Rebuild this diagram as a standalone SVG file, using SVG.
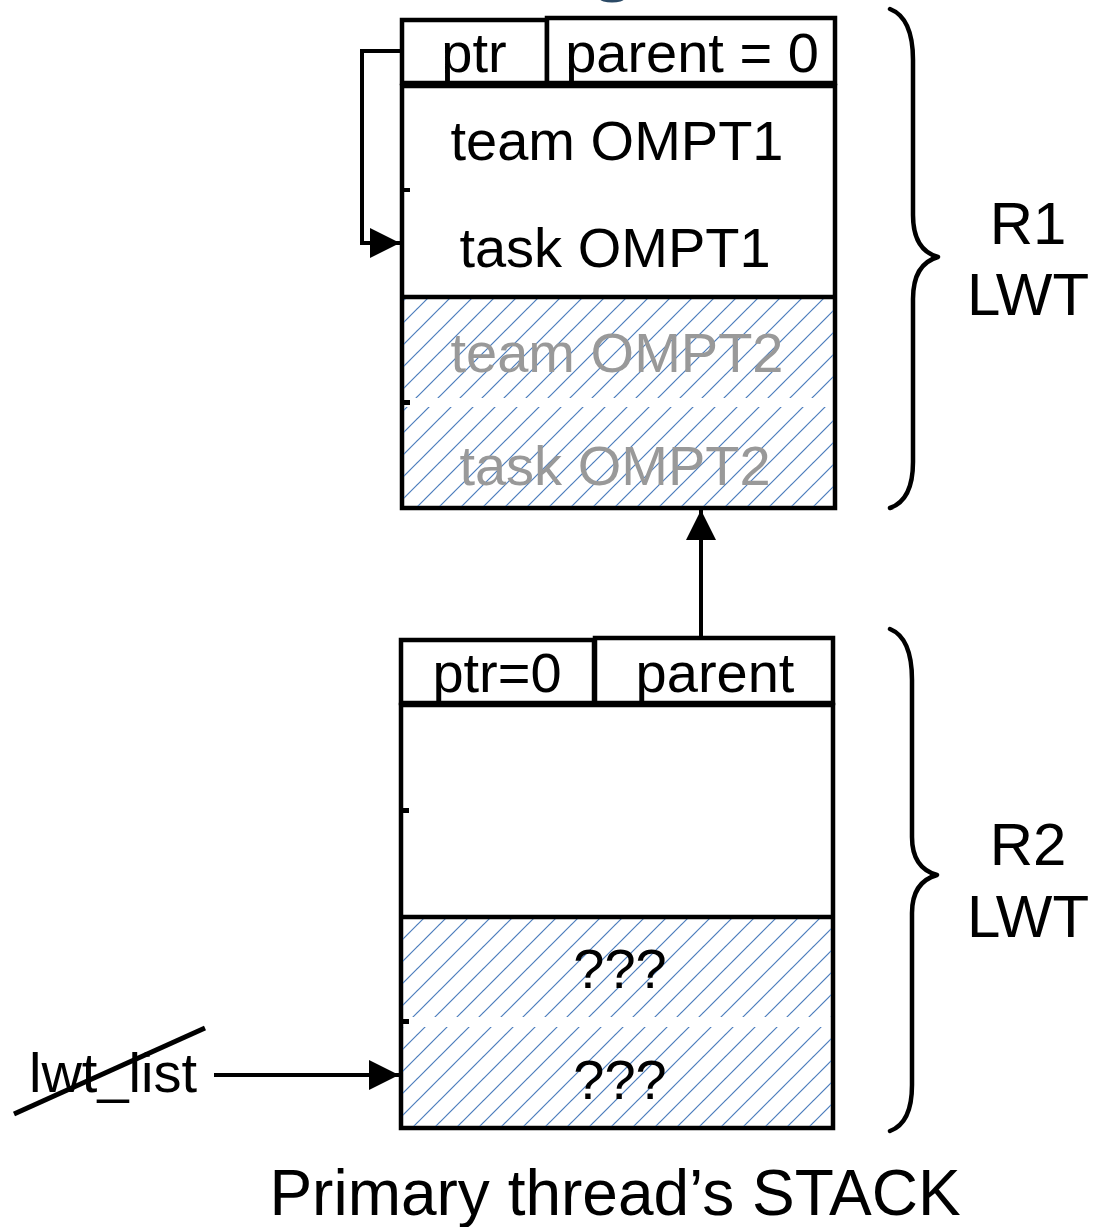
<svg xmlns="http://www.w3.org/2000/svg" width="1119" height="1227" viewBox="0 0 1119 1227">
  <defs>
    <pattern id="hatch" patternUnits="userSpaceOnUse" width="22" height="22">
      <line x1="-2" y1="24" x2="24" y2="-2" stroke="#4a7cbc" stroke-width="1.2"/>
      <line x1="-2" y1="2" x2="2" y2="-2" stroke="#4a7cbc" stroke-width="1.2"/>
      <line x1="20" y1="24" x2="24" y2="20" stroke="#4a7cbc" stroke-width="1.2"/>
    </pattern>
    <marker id="arrow" viewBox="0 0 30 30" refX="30" refY="15" markerWidth="30" markerHeight="30" markerUnits="userSpaceOnUse" orient="auto">
      <path d="M0,0 L30,15 L0,30 Z" fill="#000"/>
    </marker>
  </defs>
  <style>
    .box { fill: #fff; stroke: #000; stroke-width: 4.5; }
    .hatched { fill: url(#hatch); stroke: none; }
    .rule { stroke: #000; stroke-width: 4.5; }
    .tick { fill: #000; }
    .lbl { font-family: "Liberation Sans", Arial, sans-serif; font-size: 56px; fill: #000; text-anchor: middle; }
    .ghost { fill: #999999; }
    .side { font-family: "Liberation Sans", Arial, sans-serif; font-size: 60px; fill: #000; text-anchor: middle; }
    .caption { font-family: "Liberation Sans", Arial, sans-serif; font-size: 64px; fill: #000; text-anchor: middle; }
    .link { fill: none; stroke: #000; stroke-width: 4; }
    .brace { fill: none; stroke: #000; stroke-width: 4.5; stroke-linecap: round; stroke-linejoin: round; }
  </style>

  <rect width="1119" height="1227" fill="#fff"/>

  <!-- descender of the heading cut off at the top edge -->
  <ellipse cx="612" cy="-1" rx="12" ry="3.5" fill="#2b4a66"/>

  <!-- R1 lightweight task frame -->
  <g id="r1-ptr">
    <rect class="box" x="402" y="20" width="145" height="63"/>
    <text class="lbl" x="474" y="72">ptr</text>
  </g>
  <g id="r1-parent">
    <rect class="box" x="547" y="18" width="288" height="65"/>
    <text class="lbl" x="692" y="72">parent = 0</text>
  </g>
  <g id="r1-body">
    <rect class="box" x="402" y="86" width="433" height="422"/>
    <rect class="hatched" x="404" y="299" width="429" height="99"/>
    <rect class="hatched" x="404" y="407" width="429" height="99"/>
    <line class="rule" x1="402" y1="297" x2="835" y2="297"/>
    <rect class="tick" x="402" y="188" width="8" height="4"/>
    <rect class="tick" x="402" y="400" width="8" height="5"/>
    <text class="lbl" x="617" y="160">team OMPT1</text>
    <text class="lbl" x="615" y="267">task OMPT1</text>
    <text class="lbl ghost" x="617" y="372">team OMPT2</text>
    <text class="lbl ghost" x="615" y="485">task OMPT2</text>
  </g>

  <!-- R2 lightweight task frame -->
  <g id="r2-ptr">
    <rect class="box" x="401" y="640" width="193" height="63"/>
    <text class="lbl" x="497" y="692">ptr=0</text>
  </g>
  <g id="r2-parent">
    <rect class="box" x="595" y="638" width="238" height="65"/>
    <text class="lbl" x="715" y="692">parent</text>
  </g>
  <g id="r2-body">
    <rect class="box" x="401" y="705" width="432" height="423"/>
    <rect class="hatched" x="403" y="919" width="428" height="98"/>
    <rect class="hatched" x="403" y="1027" width="428" height="99"/>
    <line class="rule" x1="401" y1="917" x2="833" y2="917"/>
    <rect class="tick" x="401" y="808" width="8" height="5"/>
    <rect class="tick" x="401" y="1019" width="8" height="5"/>
    <text class="lbl" x="620" y="988">???</text>
    <text class="lbl" x="620" y="1099">???</text>
  </g>

  <!-- braces and region labels -->
  <g id="r1-brace">
    <path class="brace" d="M890,9 Q913,18 913,60 L913,215 Q913,250 938,257 Q913,264 913,299 L913,462 Q913,500 890,508"/>
    <text class="side" x="1028" y="244">R1</text>
    <text class="side" x="1028" y="315">LWT</text>
  </g>
  <g id="r2-brace">
    <path class="brace" d="M890,629 Q912,638 912,680 L912,837 Q912,868 937,875 Q912,882 912,913 L912,1085 Q912,1123 890,1131"/>
    <text class="side" x="1028" y="865">R2</text>
    <text class="side" x="1028" y="937">LWT</text>
  </g>

  <!-- list head pointer, no longer valid -->
  <g id="lwt-list">
    <text class="lbl" x="113" y="1092">lwt_list</text>
    <line x1="14" y1="1114" x2="205" y2="1028" stroke="#000" stroke-width="5"/>
  </g>

  <g id="caption">
    <text class="caption" x="615" y="1215">Primary thread’s STACK</text>
  </g>

  <!-- pointers between frames -->
  <g id="connectors">
    <path class="link" d="M402,51 L362,51 L362,243 L400,243" marker-end="url(#arrow)"/>
    <path class="link" d="M701,638 L701,510" marker-end="url(#arrow)"/>
    <path class="link" d="M214,1075 L399,1075" marker-end="url(#arrow)"/>
  </g>
</svg>
